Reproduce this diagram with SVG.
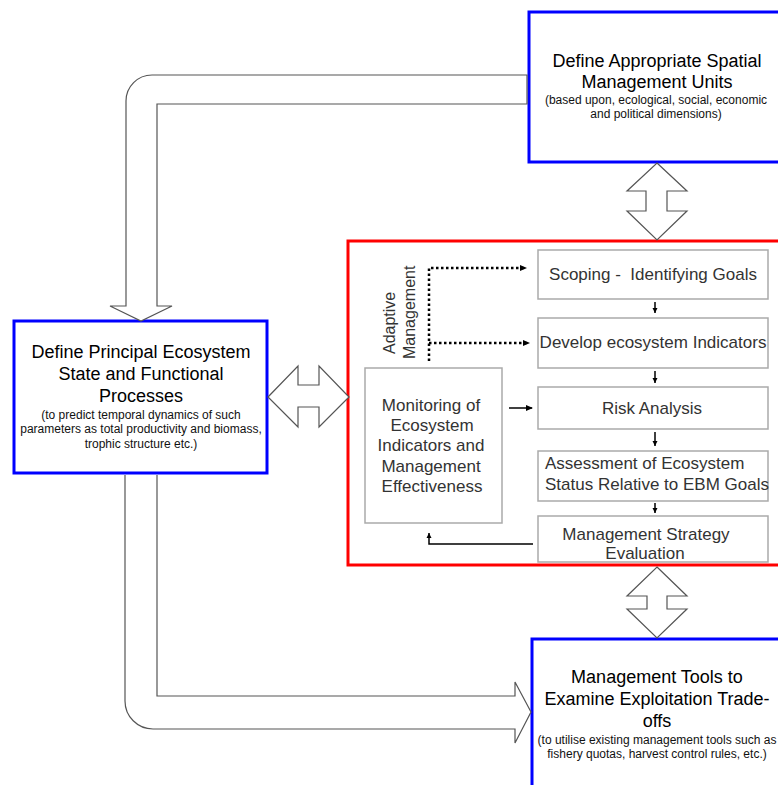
<svg xmlns="http://www.w3.org/2000/svg" width="778" height="785" viewBox="0 0 778 785">
<style>
text{font-family:"Liberation Sans",Arial,sans-serif}
.title{font-size:18px;fill:#000;text-anchor:middle}
.sub{font-size:12px;fill:#111;text-anchor:middle}
.inner{font-size:17px;fill:#333;text-anchor:middle}
.blue{fill:#fff;stroke:#0000ff;stroke-width:3}
.red{fill:#fff;stroke:#ff0000;stroke-width:3}
.box{fill:#fff;stroke:#aaa;stroke-width:1.5}
.block{fill:#fff;stroke:#555;stroke-width:1.2;stroke-linejoin:miter}
.small{stroke:#000;stroke-width:1.5;fill:none}
.dot{stroke:#000;stroke-width:2.5;stroke-dasharray:2.5,2.5;fill:none}
</style>
<defs>
<marker id="ah" markerWidth="8" markerHeight="8" refX="6" refY="4" orient="auto" markerUnits="userSpaceOnUse">
<path d="M0,1 L7,4 L0,7 Z" fill="#000"/>
</marker>
<marker id="ahs" markerWidth="6" markerHeight="6" refX="5" refY="3" orient="auto" markerUnits="userSpaceOnUse">
<path d="M0,0.5 L5,3 L0,5.5 Z" fill="#000"/>
</marker>
</defs>

<g id="n-spatial">
<rect class="blue" x="529" y="12" width="262" height="150"/>
<text class="title" x="657" y="67">Define Appropriate Spatial</text>
<text class="title" x="657" y="88">Management Units</text>
<text class="sub" x="656" y="104">(based upon, ecological, social, economic</text>
<text class="sub" x="656" y="118">and political dimensions)</text>
</g>

<g id="n-ecosystem">
<rect class="blue" x="14" y="321" width="253" height="152"/>
<text class="title" x="141" y="358">Define Principal Ecosystem</text>
<text class="title" x="141" y="380">State and Functional</text>
<text class="title" x="141" y="402">Processes</text>
<text class="sub" x="141" y="419">(to predict temporal dynamics of such</text>
<text class="sub" x="141" y="433">parameters as total productivity and biomass,</text>
<text class="sub" x="141" y="448">trophic structure etc.)</text>
</g>

<g id="n-tools">
<rect class="blue" x="532" y="639" width="262" height="160"/>
<text class="title" x="657" y="683">Management Tools to</text>
<text class="title" x="657" y="705">Examine Exploitation Trade-</text>
<text class="title" x="657" y="727">offs</text>
<text class="sub" x="657" y="744">(to utilise existing management tools such as</text>
<text class="sub" x="657" y="758">fishery quotas, harvest control rules, etc.)</text>
</g>

<g id="n-adaptive">
<rect class="red" x="348" y="241" width="440" height="324"/>
<text font-size="16" fill="#333" transform="translate(395,354) rotate(-90)">Adaptive</text>
<text font-size="16" fill="#333" transform="translate(415,359) rotate(-90)">Management</text>
</g>

<g id="n-scoping">
<rect class="box" x="538" y="250" width="230" height="49"/>
<text class="inner" x="653" y="280">Scoping -&#160; Identifying Goals</text>
</g>
<g id="n-indicators">
<rect class="box" x="538" y="318" width="230" height="50"/>
<text class="inner" x="653" y="348">Develop ecosystem Indicators</text>
</g>
<g id="n-risk">
<rect class="box" x="538" y="387" width="230" height="42"/>
<text class="inner" x="652" y="414">Risk Analysis</text>
</g>
<g id="n-assessment">
<rect class="box" x="538" y="451" width="230" height="50"/>
<text class="inner" x="545" y="469" style="text-anchor:start">Assessment of Ecosystem</text>
<text class="inner" x="545" y="490" style="text-anchor:start">Status Relative to EBM Goals</text>
</g>
<g id="n-mse">
<rect class="box" x="538" y="516" width="230" height="46"/>
<text class="inner" x="646" y="540">Management Strategy</text>
<text class="inner" x="645" y="559">Evaluation</text>
</g>
<g id="n-monitoring">
<rect class="box" x="365" y="368" width="137" height="155"/>
<text class="inner" x="431" y="411">Monitoring of</text>
<text class="inner" x="432" y="431">Ecosystem</text>
<text class="inner" x="431" y="451">Indicators and</text>
<text class="inner" x="431" y="472">Management</text>
<text class="inner" x="432" y="492">Effectiveness</text>
</g>

<g id="connectors">
<path class="block" d="M527,75 L152,75 A26,26 0 0 0 126,101 L126,306 L110,306 L141,321 L172,306 L157,306 L157,104 L527,104 Z"/>
<path class="block" d="M157,475 L157,696 L515,696 L515,682 L531,712 L515,743 L515,729 L153,729 A28,28 0 0 1 125,701 L125,475"/>
<path class="block" d="M268,397 L298,366 L298,385 L319,385 L319,366 L349,397 L319,427 L319,407 L298,407 L298,427 Z"/>
<path class="block" d="M657,163 L687,191 L667,191 L667,211 L687,211 L657,240 L627,211 L646,211 L646,191 L627,191 Z"/>
<path class="block" d="M657,567 L687,596 L667,596 L667,609 L687,609 L657,638 L627,609 L647,609 L647,596 L627,596 Z"/>
<path class="dot" d="M429,361 L429,268 L526,268" marker-end="url(#ah)"/>
<path class="dot" d="M429,343 L529,343" marker-end="url(#ah)"/>
<path class="small" d="M655,302 L655,313" marker-end="url(#ahs)"/>
<path class="small" d="M655,371 L655,383" marker-end="url(#ahs)"/>
<path class="small" d="M655,432 L655,446" marker-end="url(#ahs)"/>
<path class="small" d="M655,503 L655,513" marker-end="url(#ahs)"/>
<path class="small" stroke-width="2" d="M509,408 L532,408" marker-end="url(#ah)"/>
<path class="small" stroke-width="2" stroke="#222" d="M533,544 L429,544 L429,533" marker-end="url(#ahs)"/>
</g>
</svg>
